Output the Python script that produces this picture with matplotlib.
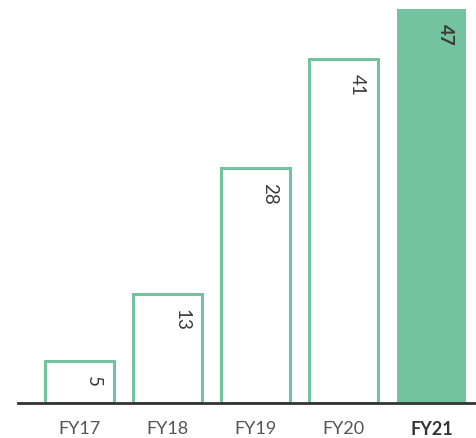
import numpy as np
import matplotlib
matplotlib.use('Agg')
import matplotlib.pyplot as plt

years = ["FY17", "FY18", "FY19", "FY20", "FY21"]
values = [5, 13, 28, 41, 47]

green = "#74c39f"

fig = plt.figure(figsize=(4.77, 4.38), dpi=100)
ax = fig.add_axes([0.0377, 0.0799, 0.9623, 0.9201])

x = np.arange(len(years))
for i, v in enumerate(values):
    last = i == len(values) - 1
    ax.bar(x[i], v, width=0.79, color=green if last else "white",
           edgecolor=green, linewidth=0 if last else 2.2, zorder=2)
    ax.text(x[i] + 0.16, v - 1.75, str(v), rotation=270, ha="center", va="top",
            fontsize=13.5, family="Lato", color="#3a3a3a",
            fontweight="bold" if last else "normal")

ax.set_xlim(-0.7, 4.517)
ax.set_ylim(0, 48.1)
for s in ["top", "right", "left"]:
    ax.spines[s].set_visible(False)
ax.spines["bottom"].set_color("#333333")
ax.spines["bottom"].set_linewidth(2)
ax.spines["bottom"].set_zorder(3)
ax.set_yticks([])
ax.set_xticks(x)
ax.set_xticklabels(years, fontsize=13, family="Lato", color="#555555")
ax.tick_params(axis="x", length=0, pad=13)
lab = ax.get_xticklabels()[-1]
lab.set_fontweight("bold")
lab.set_color("#333333")

fig.savefig("out.png", dpi=100)
